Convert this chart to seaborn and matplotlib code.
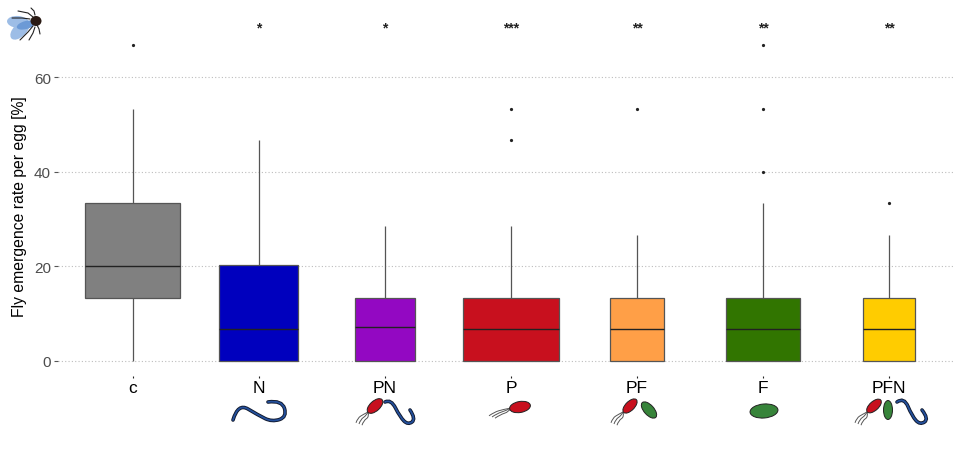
"""
plot.py
Fly emergence rate per egg for each microbe treatment, boxes scaled by group size.
"""

import matplotlib
matplotlib.use("Agg")
import matplotlib.pyplot as plt
import seaborn as sns
from matplotlib.patches import Ellipse, PathPatch
from matplotlib.path import Path

categories = ["c", "N", "PN", "P", "PF", "F", "PFN"]
stars = ["", "*", "*", "***", "**", "**", "**"]
colors = ["#808080", "#0000BE", "#9308C2", "#C8101E", "#FF9F47", "#317500", "#FFCC00"]
box_widths = [0.754, 0.627, 0.472, 0.76, 0.425, 0.59, 0.42]
y_ticks = [0, 20, 40, 60]

rate_c = [0, 13.33, 13.33, 20, 20, 33.33, 33.33, 53.33, 66.67]
rate_n = [0, 0, 0, 0, 6.67, 20.3, 20.3, 30, 46.67]
rate_pn = [0, 0, 0, 0, 7.14, 13.33, 13.33, 20, 28.57]
rate_p = [0, 0, 0, 0, 0, 6.67, 6.67, 13.33, 13.33, 13.33, 28.57, 46.67, 53.33]
rate_pf = [0, 0, 0, 0, 6.67, 13.33, 13.33, 26.67, 53.33]
rate_f = [0, 0, 0, 0, 0, 6.67, 6.67, 6.67, 6.67, 13.33, 13.33, 13.33, 13.33,
          33.3, 40, 53.33, 66.67]
rate_pfn = [0, 0, 0, 0, 6.67, 13.33, 13.33, 26.67, 33.4]
rates = [rate_c, rate_n, rate_pn, rate_p, rate_pf, rate_f, rate_pfn]

sns.set_theme(style="white")
plt.rcParams["font.family"] = ["Liberation Sans", "DejaVu Sans"]

fig = plt.figure(figsize=(9.54, 4.6), dpi=100)
ax = fig.add_axes([58 / 954, 1 - 376 / 460, 896 / 954, 366 / 460])

for i, vals in enumerate(rates):
    sns.boxplot(
        x=[i] * len(vals),
        y=vals,
        native_scale=True,
        width=box_widths[i],
        color=colors[i],
        saturation=1,
        linecolor="#555555",
        linewidth=0.9,
        showcaps=False,
        fliersize=1.3,
        medianprops={"color": "#222222", "linewidth": 1.0},
        flierprops={"marker": "o", "markerfacecolor": "#222222", "markeredgecolor": "#222222"},
        ax=ax,
    )
    ax.text(i, 70.5, stars[i], ha="center", va="center", fontsize=10, fontweight="bold", color="#222222")

ax.set_xlim(-0.595, 6.516)
ax.set_ylim(-2.96, 74.37)
ax.set_xticks(range(len(categories)))
ax.set_xticklabels(categories, fontsize=12.5, color="black")
ax.set_yticks(y_ticks)
ax.set_yticklabels([str(v) for v in y_ticks], fontsize=11, color="#4d4d4d")
ax.set_xlabel("")
ax.set_ylabel("Fly emergence rate per egg [%]", fontsize=11.3, color="black")
ax.yaxis.set_label_coords(-0.0346, 0.462)
ax.yaxis.grid(True, linestyle=(0, (1, 2)), linewidth=0.8, color="#bdbdbd")
ax.xaxis.grid(False)
ax.set_axisbelow(True)
for side in ax.spines:
    ax.spines[side].set_visible(False)
ax.tick_params(axis="x", length=0, pad=3.5)
ax.tick_params(axis="y", length=0, pad=5)

# the axis tick lines would not show up, so draw the small ticks as markers
ax.plot(range(len(categories)), [-0.005] * len(categories), transform=ax.get_xaxis_transform(),
        linestyle="", marker="|", markersize=2, markeredgewidth=0.8, color="#222222", clip_on=False)
ax.plot([-0.002] * len(y_ticks), y_ticks, transform=ax.get_yaxis_transform(),
        linestyle="", marker="_", markersize=2.5, markeredgewidth=0.8, color="#555555", clip_on=False)

# overlay in pixel coordinates for the little organism icons
icons = fig.add_axes([0, 0, 1, 1], facecolor="none")
icons.set_xlim(0, 954)
icons.set_ylim(460, 0)
icons.axis("off")


def smooth(points):
    verts = [points[0]]
    codes = [Path.MOVETO]
    for a, b in zip(points[1:-1], points[2:]):
        verts += [a, ((a[0] + b[0]) / 2, (a[1] + b[1]) / 2)]
        codes += [Path.CURVE3, Path.CURVE3]
    verts[-1] = points[-1]
    return Path(verts, codes)


def worm(points):
    path = smooth(points)
    icons.add_patch(PathPatch(path, fill=False, lw=2.6, edgecolor="#10182c", capstyle="round"))
    icons.add_patch(PathPatch(path, fill=False, lw=1.3, edgecolor="#24509c", capstyle="round"))


def flagella(x0, y0, x1, y1):
    dx, dy = x1 - x0, y1 - y0
    for off in (-3, 0, 3):
        pts = [
            (x0, y0),
            (x0 + dx * 0.35 + off + 1.5, y0 + dy * 0.3 + off * 0.4),
            (x0 + dx * 0.65 + off - 1.5, y0 + dy * 0.6 + off * 0.4),
            (x1 + off, y1 + off * 0.4),
        ]
        icons.add_patch(PathPatch(smooth(pts), fill=False, lw=0.7, edgecolor="#555555"))


def cell(cx, cy, length, thick, angle, color):
    icons.add_patch(Ellipse((cx, cy), length, thick, angle=angle, facecolor=color,
                            edgecolor="#222222", lw=0.7))


RED = "#C8101E"
GREEN = "#37843A"

worm([(233, 421), (238, 404), (258, 416), (272, 423), (287, 418), (282, 401), (268, 403)])

worm([(385, 403), (391, 400), (400, 418), (408, 426), (416, 420), (410, 411)])
flagella(368, 413, 359, 425)
cell(375, 407, 19, 10, -42, RED)

flagella(511, 409, 492, 418)
cell(520, 408, 21, 11, -10, RED)

flagella(623, 413, 614, 425)
cell(630, 407, 18, 9, -45, RED)
cell(649, 411, 20, 10, 48, GREEN)

cell(764, 412, 28, 14, -5, GREEN)

flagella(867, 413, 858, 425)
cell(874, 407, 18, 9, -42, RED)
cell(888, 411, 19, 9, 90, GREEN)
worm([(897, 403), (904, 398), (912, 417), (920, 426), (929, 420), (922, 411)])

# fly, top left corner
legs = [
    [(33, 18), (28, 14), (18, 12)],
    [(35, 16), (34, 12), (31, 9)],
    [(30, 20), (22, 19), (12, 19)],
    [(33, 27), (28, 33), (20, 41)],
    [(35, 28), (33, 34), (29, 41)],
    [(37, 26), (39, 30), (40, 35)],
]
for leg in legs:
    icons.plot([p[0] for p in leg], [p[1] for p in leg], color="#222222", lw=0.8)
icons.add_patch(Ellipse((18, 23), 22, 12, angle=5, facecolor="#9dbde6", edgecolor="none"))
icons.add_patch(Ellipse((20, 31), 24, 13, angle=-45, facecolor="#9dbde6", edgecolor="none"))
icons.add_patch(Ellipse((26, 26), 19, 8, angle=-15, facecolor="#6c9ad6", edgecolor="none"))
icons.add_patch(Ellipse((36, 22), 11, 10, facecolor="#2a1a14", edgecolor="none"))

fig.savefig("out.png", dpi=100)
